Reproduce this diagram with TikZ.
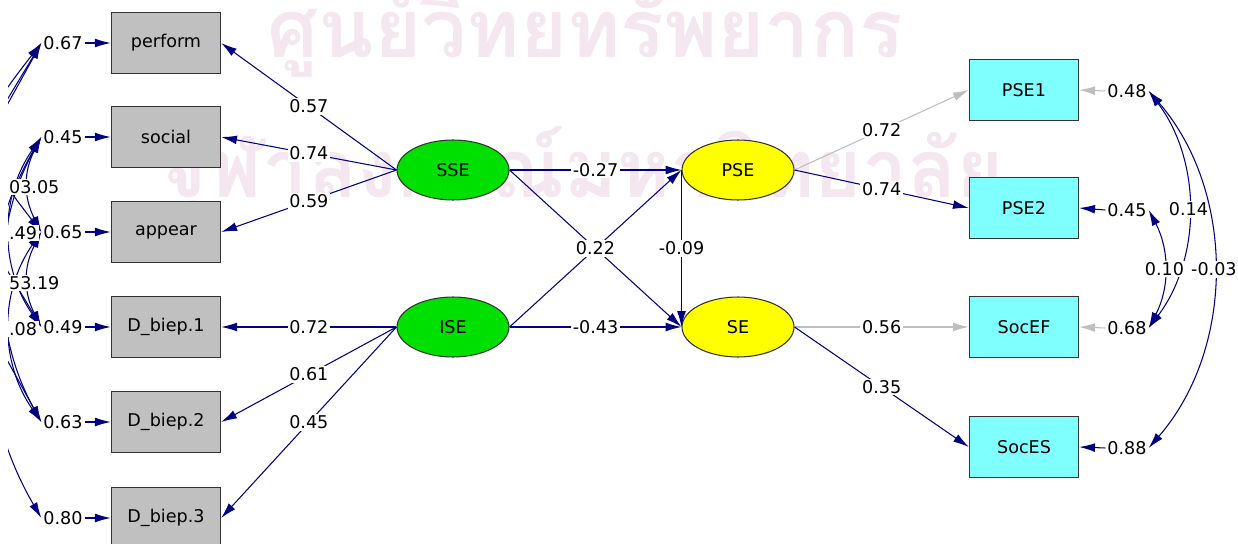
\documentclass[tikz,border=0pt]{standalone}
\usepackage{fontspec}
\setmainfont{DejaVu Sans}
\newfontfamily\thaifont[Script=Thai]{Loma}
\usetikzlibrary{arrows.meta, shapes.geometric, positioning}
\definecolor{lisnavy}{RGB}{0,0,128}
\definecolor{lisgray}{RGB}{192,192,192}
\definecolor{liscyan}{RGB}{128,255,255}
\definecolor{lisgreen}{RGB}{0,224,0}
\definecolor{lisyellow}{RGB}{255,255,0}
\definecolor{lisfix}{RGB}{190,190,190}
\definecolor{wmark}{RGB}{244,231,240}

\begin{document}
\begin{tikzpicture}[x=0.02cm, y=-0.02cm, font=\fontsize{10}{12}\selectfont,
  xbox/.style={draw=black!80, line width=0.8pt, fill=lisgray, minimum width=2.18cm, minimum height=1.22cm, inner sep=0pt},
  ybox/.style={xbox, fill=liscyan},
  ksi/.style={ellipse, draw=black!80, line width=0.6pt, fill=lisgreen, minimum width=2.24cm, minimum height=1.2cm, inner sep=0pt},
  eta/.style={ksi, fill=lisyellow},
  lnk/.style={draw=lisnavy, line width=0.6pt, -{Latex[length=9pt,width=5pt]}},
  fixlnk/.style={lnk, draw=lisfix},
  cov/.style={draw=lisnavy, line width=0.6pt, {Latex[length=9pt,width=5pt]}-{Latex[length=9pt,width=5pt]}},
  coef/.style={fill=white, inner sep=1pt},
  err/.style={inner sep=1pt},
  wm/.style={text=wmark, font=\thaifont\bfseries\fontsize{46}{56}\selectfont, anchor=base}]
  \useasboundingbox (0,0) rectangle (1238,544);
  \clip (8,0) rectangle (1238,544);

  % watermark
  \node[wm] (wm1) at (585,58) {ศูนย์วิทยทรัพยากร};
  \node[wm] (wm2) at (582,197) {จุฬาลงกรณ์มหาวิทยาลัย};

  % observed x
  \node[xbox] (perform) at (166,43) {perform};
  \node[xbox] (social) at (166,137) {social};
  \node[xbox] (appear) at (166,232) {appear};
  \node[xbox] (dbiep1) at (166,327) {D\_biep.1};
  \node[xbox] (dbiep2) at (166,422) {D\_biep.2};
  \node[xbox] (dbiep3) at (166,518) {D\_biep.3};
  \node[err] (e67) at (63,43) {0.67};
  \node[err] (e45) at (63,137) {0.45};
  \node[err] (e65) at (63,232) {0.65};
  \node[err] (e49) at (63,327) {0.49};
  \node[err] (e63) at (63,422) {0.63};
  \node[err] (e80) at (63,518) {0.80};

  % latent
  \node[ksi] (sse) at (453,170) {SSE};
  \node[ksi] (ise) at (453,327) {ISE};
  \node[eta] (pse) at (738,170) {PSE};
  \node[eta] (se) at (738,327) {SE};

  % observed y
  \node[ybox] (pse1) at (1024,90) {PSE1};
  \node[ybox] (pse2) at (1024,208) {PSE2};
  \node[ybox] (socef) at (1024,327) {SocEF};
  \node[ybox] (soces) at (1024,447) {SocES};
  \node[err] (e48) at (1127,91) {0.48};
  \node[err] (e45r) at (1127,210) {0.45};
  \node[err] (e68) at (1127,328) {0.68};
  \node[err] (e88) at (1127,448) {0.88};

  \draw[lnk] (sse.west) -- node[coef]{0.57} (perform.east);
  \draw[lnk] (sse.west) -- node[coef]{0.74} (social.east);
  \draw[lnk] (sse.west) -- node[coef]{0.59} (appear.east);
  \draw[lnk] (ise.west) -- node[coef]{0.72} (dbiep1.east);
  \draw[lnk] (ise.west) -- node[coef]{0.61} (dbiep2.east);
  \draw[lnk] (ise.west) -- node[coef]{0.45} (dbiep3.east);

  \draw[lnk] (sse.east) -- (se.west);
  \draw[lnk] (ise.east) -- node[coef]{0.22} (pse.west);
  \draw[lnk] (sse.east) -- node[coef]{-0.27} (pse.west);
  \draw[lnk] (ise.east) -- node[coef]{-0.43} (se.west);
  \draw[lnk] (pse.west) -- node[coef]{-0.09} (se.west);

  \draw[fixlnk] (pse.east) -- node[coef]{0.72} (pse1.west);
  \draw[lnk] (pse.east) -- node[coef]{0.74} (pse2.west);
  \draw[fixlnk] (se.east) -- node[coef]{0.56} (socef.west);
  \draw[lnk] (se.east) -- node[coef]{0.35} (soces.west);

  \foreach \e/\b in {e67/perform, e45/social, e65/appear, e49/dbiep1, e63/dbiep2, e80/dbiep3}
    \draw[lnk] (\e.east) -- (\b.west);
  \draw[fixlnk] (e48.west) -- (pse1.east);
  \draw[lnk] (e45r.west) -- (pse2.east);
  \draw[fixlnk] (e68.west) -- (socef.east);
  \draw[lnk] (e88.west) -- (soces.east);

  % error covariances
  \draw[cov] (e48.east) .. controls +(53,70) and +(53,-70) .. (e68.east) node[coef, pos=0.5]{0.14};
  \draw[cov] (e45r.east) .. controls +(21,40) and +(21,-40) .. (e68.east) node[coef, pos=0.5]{0.10};
  \draw[cov] (e48.east) .. controls +(87,100) and +(87,-100) .. (e88.east) node[coef, pos=0.5]{-0.03};

  \draw[cov] (e67.west) .. controls +(-70,90) and +(-70,-90) .. (e65.west);
  \draw[cov] (e67.west) .. controls +(-90,150) and +(-90,-150) .. (e49.west);
  \draw[cov] (e67.west) .. controls +(-110,200) and +(-110,-200) .. (e63.west);
  \draw[cov] (e45.west) .. controls +(-18,35) and +(-18,-35) .. (e65.west);
  \draw[cov] (e45.west) .. controls +(-42,60) and +(-42,-60) .. (e49.west);
  \draw[cov] (e45.west) .. controls +(-50,90) and +(-50,-90) .. (e63.west);
  \draw[cov] (e45.west) .. controls +(-70,120) and +(-70,-120) .. (e80.west);
  \draw[cov] (e65.west) .. controls +(-18,35) and +(-18,-35) .. (e49.west);
  \draw[cov] (e65.west) .. controls +(-42,60) and +(-42,-60) .. (e63.west);
  \node[coef, anchor=west] (c187) at (7,187) {03.05};
  \node[coef, anchor=west] (c233) at (7,233) {.49};
  \node[coef, anchor=west] (c283) at (7,283) {53.19};
  \node[coef, anchor=west] (c328) at (7,329) {.08};
\end{tikzpicture}
\end{document}
